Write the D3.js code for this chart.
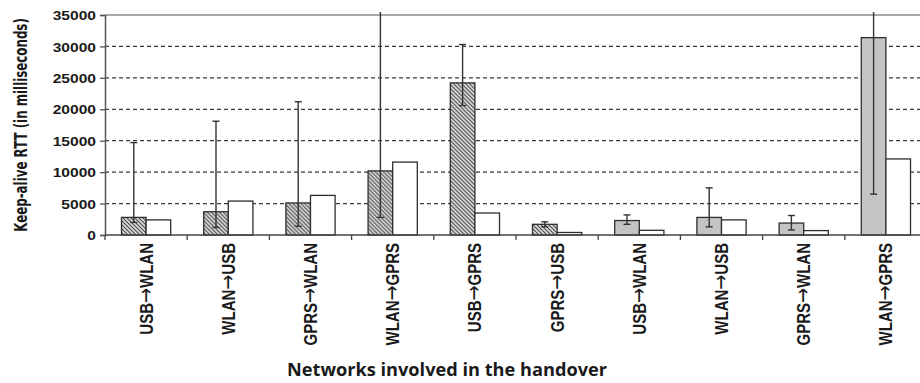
<!DOCTYPE html>
<html>
<head>
<meta charset="utf-8">
<script src="https://cdn.jsdelivr.net/npm/d3@7"></script>
<style>
  html, body { margin: 0; padding: 0; background: #fff; }
  svg { display: block; }
</style>
</head>
<body>
<svg id="chart" width="920" height="383"></svg>
<script>
// Handover pairs (source → destination network)
const categories = ["USB→WLAN", "WLAN→USB", "GPRS→WLAN", "WLAN→GPRS", "USB→GPRS",
                    "GPRS→USB", "USB→WLAN", "WLAN→USB", "GPRS→WLAN", "WLAN→GPRS"];
// Testbed each handover belongs to (1 = hatched bars, 2 = plain grey bars)
const testbed = [1, 1, 1, 1, 1, 1, 2, 2, 2, 2];
// Measured keep-alive RTT (ms) with its spread
const measuredRTT = [2800, 3700, 5100, 10200, 24200, 1700, 2300, 2800, 1900, 31400];
const rttLow      = [2000, 1200, 1400, 2800, 20600, 1300, 1700, 1300, 800, 6500];
const rttHigh     = [14700, 18100, 21200, 38000, 30300, 2100, 3200, 7500, 3100, 38000];
// Reference keep-alive RTT (ms)
const referenceRTT = [2400, 5400, 6300, 11600, 3500, 400, 750, 2400, 700, 12100];
// Y axis ticks
const yTicks = [0, 5000, 10000, 15000, 20000, 25000, 30000, 35000];

const svg = d3.select("#chart");
const plot = { left: 105, right: 927, top: 15, bottom: 235 };
const stretch = 1.2; // horizontal widening applied to the axis lettering

const y = d3.scaleLinear().domain([0, 35000]).range([plot.bottom, plot.top]);
const x0 = d3.scaleBand().domain(d3.range(categories.length)).range([plot.left, plot.right]).padding(0);
const x1 = d3.scaleBand().domain(["measured", "reference"]).range([0, x0.bandwidth()])
  .paddingInner(0).paddingOuter(0.67);

// Diagonal hatch for the first testbed
const defs = svg.append("defs");
const pat = defs.append("pattern").attr("id", "hatch").attr("patternUnits", "userSpaceOnUse")
  .attr("width", 4).attr("height", 4);
pat.append("rect").attr("width", 4).attr("height", 4).attr("fill", "#dcdcdc");
pat.append("path").attr("d", "M-1,-1 L5,5 M3,-1 L5,1 M-1,3 L1,5")
  .attr("stroke", "#4a4a4a").attr("stroke-width", 1.1);

defs.append("clipPath").attr("id", "errclip").append("rect")
  .attr("x", 0).attr("y", y(35000) - 3).attr("width", 920).attr("height", 383);

// Dashed grid lines
svg.append("g").selectAll("line").data(yTicks.filter(d => d > 0 && d < 35000)).join("line")
  .attr("x1", plot.left).attr("x2", plot.right)
  .attr("y1", d => y(d)).attr("y2", d => y(d))
  .attr("stroke", "#3a3a3a").attr("stroke-width", 1.2).attr("stroke-dasharray", "4,3");

// Top frame line
svg.append("line").attr("x1", plot.left).attr("x2", plot.right)
  .attr("y1", y(35000)).attr("y2", y(35000))
  .attr("stroke", "#a8a8a8").attr("stroke-width", 2);

// Bars
const fillFor = i => testbed[i] === 1 ? "url(#hatch)" : "#c4c4c4";
const groups = svg.append("g").selectAll("g").data(categories.map((c, i) => i)).join("g")
  .attr("transform", i => `translate(${x0(i)},0)`);

groups.append("rect")
  .attr("x", x1("measured")).attr("width", x1.bandwidth())
  .attr("y", i => y(measuredRTT[i])).attr("height", i => y(0) - y(measuredRTT[i]))
  .attr("fill", i => fillFor(i)).attr("stroke", "#2e2e2e").attr("stroke-width", 1.3);

groups.append("rect")
  .attr("x", x1("reference")).attr("width", x1.bandwidth())
  .attr("y", i => y(referenceRTT[i])).attr("height", i => y(0) - y(referenceRTT[i]))
  .attr("fill", "#fff").attr("stroke", "#2e2e2e").attr("stroke-width", 1.3);

// Error bars on the measured series
const err = svg.append("g").attr("clip-path", "url(#errclip)").selectAll("g")
  .data(categories.map((c, i) => i)).join("g")
  .attr("transform", i => `translate(${x0(i) + x1("measured") + x1.bandwidth() / 2},0)`)
  .attr("stroke", "#333").attr("stroke-width", 1.4);
err.append("line").attr("y1", i => y(rttLow[i])).attr("y2", i => y(rttHigh[i]));
err.append("line").attr("x1", -3.5).attr("x2", 3.5).attr("y1", i => y(rttLow[i])).attr("y2", i => y(rttLow[i]));
err.append("line").attr("x1", -3.5).attr("x2", 3.5).attr("y1", i => y(rttHigh[i])).attr("y2", i => y(rttHigh[i]));

// Y axis
const yAxis = svg.append("g").attr("transform", `translate(${plot.left},0)`)
  .call(d3.axisLeft(y).tickValues(yTicks).tickFormat(d3.format("d")).tickSize(5).tickPadding(9));
yAxis.select(".domain").attr("stroke", "#555").attr("stroke-width", 1.5);
yAxis.selectAll(".tick line").attr("stroke", "#555").attr("stroke-width", 1.3);
yAxis.selectAll(".tick text")
  .attr("x", null)
  .attr("transform", `translate(-9,0) scale(${stretch},1)`)
  .attr("dy", "0.36em")
  .attr("fill", "#1a1a1a")
  .style("font-family", "'Liberation Sans', Arial, sans-serif")
  .style("font-weight", "bold").style("font-size", "13px");

// X axis line with group boundary ticks
svg.append("line").attr("x1", plot.left).attr("x2", plot.right)
  .attr("y1", y(0)).attr("y2", y(0)).attr("stroke", "#444").attr("stroke-width", 1.5);
svg.append("g").selectAll("line").data(d3.range(categories.length + 1)).join("line")
  .attr("x1", i => plot.left + i * x0.bandwidth()).attr("x2", i => plot.left + i * x0.bandwidth())
  .attr("y1", y(0)).attr("y2", y(0) + 5).attr("stroke", "#444").attr("stroke-width", 1.3);

// Category labels, rotated; the arrow gets a longer glyph
const labels = svg.append("g").selectAll("text").data(categories).join("text")
  .attr("transform", (d, i) => `translate(${x0(i) + x0.bandwidth() / 2},${y(0) + 8}) scale(${stretch},1) rotate(-90)`)
  .attr("text-anchor", "end").attr("dy", "0.36em")
  .attr("fill", "#1a1a1a")
  .style("font-family", "'Liberation Sans', Arial, sans-serif")
  .style("font-weight", "bold").style("font-size", "15px");
labels.each(function (d) {
  const [from, to] = d.split("→");
  const t = d3.select(this);
  t.append("tspan").text(from);
  t.append("tspan").text("→")
    .style("font-family", "'DejaVu Sans', sans-serif").style("font-weight", "normal").style("font-size", "18px");
  t.append("tspan").text(to);
});

// Y axis title: widened glyphs, run length fitted to the plot height
const yTitle = svg.append("text")
  .attr("text-anchor", "middle").attr("fill", "#1a1a1a")
  .style("font-family", "'DejaVu Sans', sans-serif")
  .style("font-weight", "bold").style("font-size", "14px")
  .text("Keep-alive RTT (in milliseconds)");
const titleRun = 214;
const natural = yTitle.node().getComputedTextLength();
yTitle.attr("transform",
  `translate(27,${(plot.top + plot.bottom) / 2}) scale(1.2,${titleRun / natural}) rotate(-90)`);

// X axis title
svg.append("text")
  .attr("x", 287).attr("y", 375.5)
  .attr("textLength", 320).attr("lengthAdjust", "spacingAndGlyphs")
  .attr("fill", "#1a1a1a")
  .style("font-family", "'Open Sans', sans-serif")
  .style("font-weight", "bold").style("font-size", "17.5px")
  .text("Networks involved in the handover");
</script>
</body>
</html>
